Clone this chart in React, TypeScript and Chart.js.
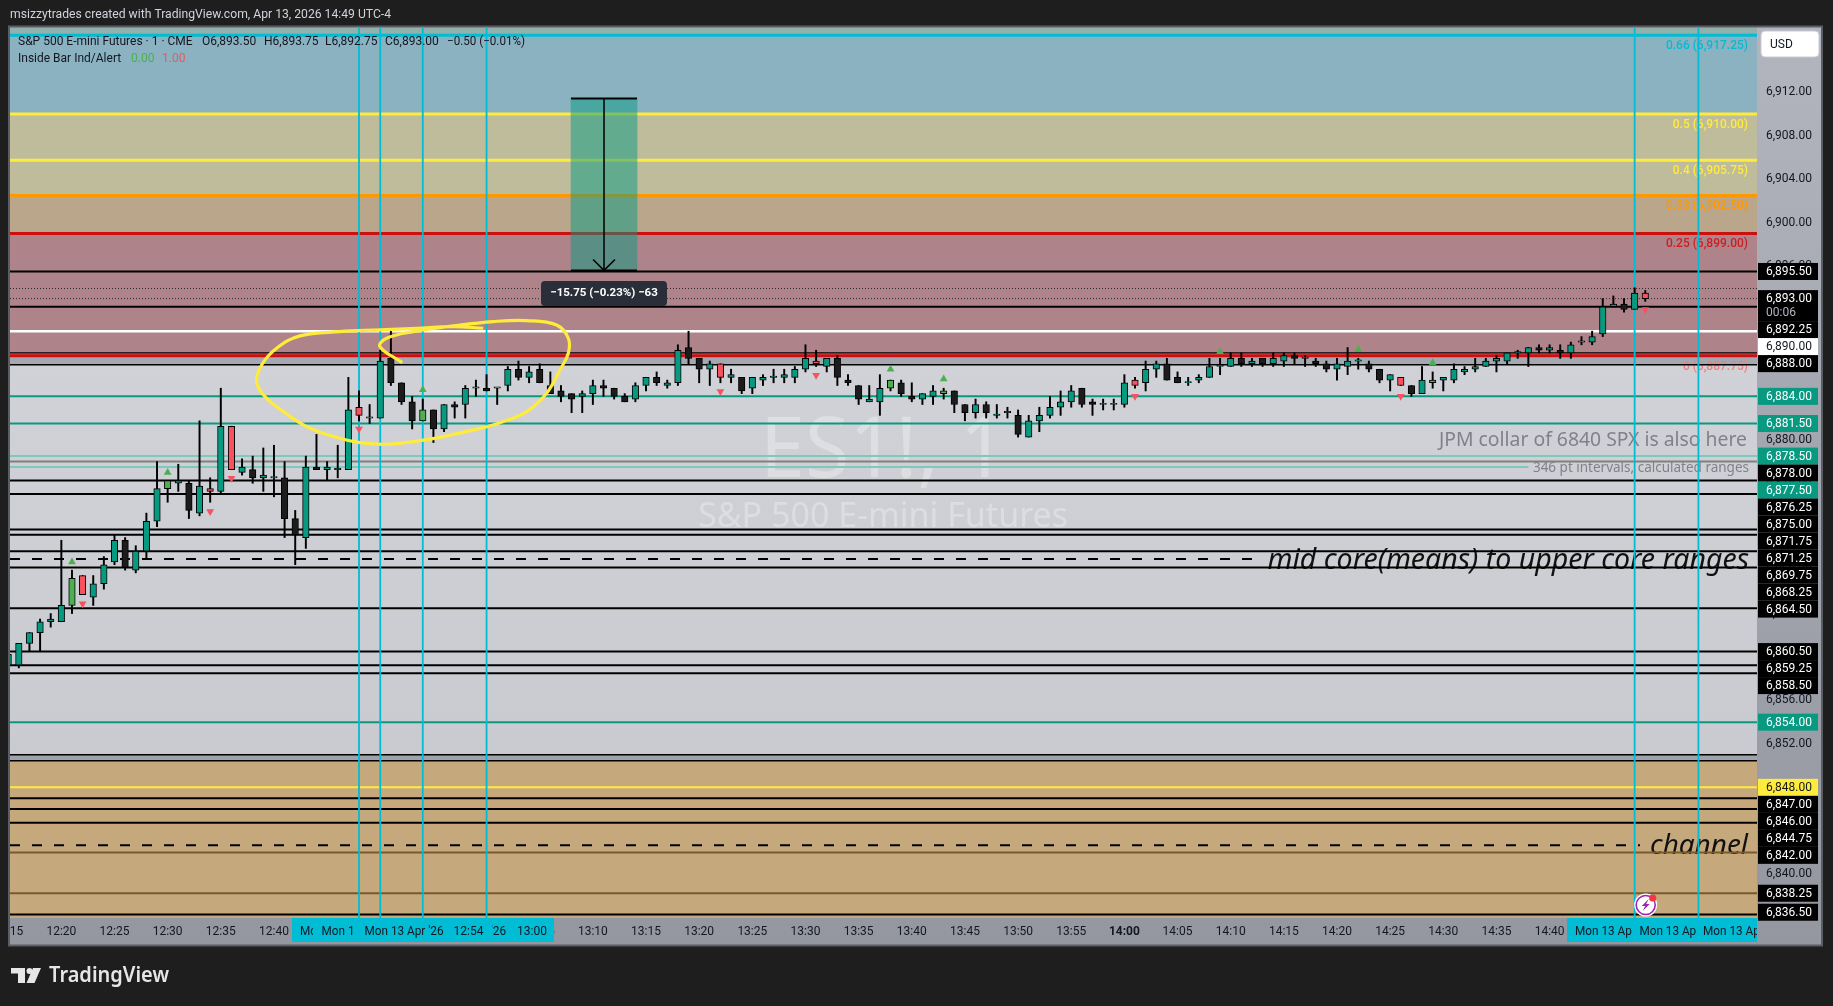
import React, { useEffect, useRef } from "react";
import { Chart, registerables } from "chart.js";

Chart.register(...registerables);

// ---- candles, one per minute from 12:15 (minute of day 735) ----
const firstMinute = 735;
const opens = [
  6859.25, 6859.25, 6861.25, 6862.25, 6863.25, 6863.25, 6864.75, 6867.5, 6865.5, 6866.75,
  6868.75, 6870.75, 6868, 6869.75, 6872.5, 6875.5, 6876, 6876, 6873.25, 6875.5,
  6875.25, 6881.25, 6877, 6877.25, 6876.5, 6876.5, 6876.5, 6872.75, 6871, 6877.5,
  6877.25, 6877.25, 6877.25, 6883, 6882, 6882, 6887.5, 6885.25, 6883.5, 6881.75,
  6882.75, 6881, 6883.25, 6883.25, 6884.75, 6884.75, 6884.75, 6885, 6886.5, 6885.75,
  6886.5, 6885, 6884.5, 6884.25, 6884, 6884.25, 6885, 6884.75, 6884, 6883.75,
  6885, 6885.75, 6885, 6885.25, 6888.5, 6887.5, 6886.5, 6887, 6885.75, 6885.75,
  6884.75, 6885.5, 6885.75, 6885.75, 6885.75, 6886.5, 6887.25, 6886.75, 6887.5, 6885.5,
  6885, 6883.5, 6883.5, 6884.75, 6885.25, 6884, 6883.75, 6884, 6884.25, 6884.5,
  6883.25, 6882.5, 6883.25, 6882.25, 6882.5, 6882.25, 6880.25, 6881.75, 6882.25, 6883,
  6883.5, 6884.75, 6883.5, 6883.25, 6883.25, 6883.25, 6885.5, 6885.25, 6886.5, 6887,
  6885.75, 6885.25, 6885.5, 6885.75, 6886.75, 6886.75, 6887.5, 6887, 6887.5, 6887,
  6887.25, 6887.75, 6887.5, 6887.25, 6887, 6886.5, 6886.75, 6887.25, 6887, 6886.5,
  6885.5, 6885.75, 6885, 6884.25, 6885.25, 6885.5, 6885.5, 6886.25, 6886.5, 6886.75,
  6887.25, 6887.25, 6888, 6888, 6888.5, 6888.25, 6888.25, 6888, 6889, 6889,
  6889.75, 6892.25, 6892.5, 6892, 6893.5,
];
const highs = [
  6860.25, 6861.25, 6862.25, 6863.5, 6864, 6870.75, 6868, 6867.5, 6867.5, 6869.25,
  6871.25, 6871, 6870.25, 6873.25, 6878, 6876.25, 6877.75, 6876.25, 6881.75, 6876.5,
  6884.75, 6881.25, 6878.25, 6878.5, 6879.25, 6879.5, 6878, 6873.5, 6878.5, 6880.5,
  6878, 6879.5, 6885.75, 6884.5, 6883.25, 6888.25, 6890, 6885.25, 6884, 6883.75,
  6882.75, 6883.25, 6883.5, 6885, 6885.5, 6886, 6884.75, 6886.75, 6887.25, 6886.75,
  6887, 6886.25, 6885, 6884.25, 6884.5, 6885.5, 6885.5, 6884.75, 6884.25, 6885.25,
  6885.75, 6886.25, 6885.5, 6888.75, 6890, 6887.5, 6887.25, 6887, 6886.5, 6885.75,
  6885.75, 6886, 6886.5, 6886.5, 6886.75, 6888.75, 6888.25, 6887.5, 6887.75, 6886,
  6885, 6885, 6886, 6885.5, 6885.5, 6885.25, 6884.25, 6885, 6884.75, 6884.5,
  6883.25, 6883.75, 6883.5, 6883.25, 6883, 6882.75, 6882.25, 6883, 6884, 6884.5,
  6885, 6884.75, 6883.75, 6883.75, 6883.75, 6886, 6885.75, 6887.25, 6887.25, 6887.5,
  6886.25, 6885.75, 6886, 6887.5, 6887.5, 6888, 6888, 6887.5, 6887.5, 6888,
  6888, 6888, 6887.75, 6887.5, 6887.25, 6887.5, 6888.5, 6887.5, 6887.25, 6886.5,
  6886, 6885.75, 6885, 6886.75, 6886.25, 6885.75, 6887, 6886.75, 6887.5, 6887.5,
  6887.75, 6888, 6888.25, 6888.5, 6888.75, 6888.75, 6888.75, 6889, 6889.5, 6890,
  6893, 6893.25, 6893, 6894, 6893.75,
];
const lows = [
  6859, 6859, 6860.5, 6860.5, 6862.75, 6863.25, 6864, 6865.75, 6864.75, 6866.25,
  6868.5, 6868, 6867.75, 6869, 6872, 6874.25, 6875.25, 6872.75, 6873, 6874.25,
  6875, 6877.25, 6876.75, 6876, 6875.25, 6874.75, 6871, 6868.5, 6870, 6877.25,
  6876.25, 6876.5, 6877.25, 6881.75, 6881.5, 6882, 6885, 6883.25, 6881, 6881.75,
  6879.75, 6880.75, 6882, 6882, 6884, 6884.5, 6883.25, 6884.5, 6885.5, 6885.25,
  6885.25, 6884.25, 6883.5, 6882.5, 6882.5, 6883.25, 6884, 6883.75, 6883.5, 6883.5,
  6884.5, 6885, 6884.75, 6885, 6887, 6885.25, 6885, 6885.25, 6885.25, 6884.25,
  6884.25, 6885, 6885.25, 6885.25, 6885.25, 6886.25, 6886.75, 6886.25, 6885, 6885,
  6883.25, 6883.5, 6882.25, 6884.5, 6884, 6883.5, 6883.25, 6883.25, 6883.75, 6882.5,
  6881.75, 6882, 6882, 6882, 6882, 6880.25, 6880.25, 6880.75, 6882, 6882.25,
  6883, 6883, 6882.25, 6882.75, 6882.75, 6883, 6884.75, 6884.5, 6885.75, 6885.5,
  6885.25, 6885, 6885.25, 6885.75, 6886, 6886.75, 6886.75, 6886.75, 6886.75, 6886.75,
  6886.75, 6887, 6886.75, 6886.75, 6886.25, 6885.5, 6886, 6886.5, 6886.25, 6885.25,
  6884.5, 6885, 6884, 6884.25, 6884.75, 6884.5, 6885.25, 6886, 6886.25, 6886.75,
  6886.25, 6887, 6887.5, 6886.75, 6888, 6888, 6887.5, 6887.5, 6888.75, 6888.75,
  6889.5, 6892.25, 6891.75, 6892, 6892.75,
];
const closes = [
  6860.25, 6861.25, 6862.25, 6863.25, 6863.5, 6864.75, 6867.25, 6865.75, 6866.75, 6868.5,
  6870.75, 6868.25, 6869.75, 6872.5, 6875.5, 6876.25, 6876.25, 6873.5, 6875.75, 6875.25,
  6881.25, 6877.25, 6877.5, 6876.5, 6876.75, 6876.5, 6872.75, 6871.25, 6877.5, 6877.25,
  6877.5, 6877.25, 6882.75, 6882.25, 6882, 6887.25, 6885.25, 6883.5, 6881.75, 6882.75,
  6881, 6883.25, 6883, 6884.75, 6884.75, 6884.5, 6884.75, 6886.5, 6885.75, 6886.25,
  6885.25, 6884.25, 6884, 6883.75, 6884.25, 6885, 6884.75, 6884, 6883.5, 6885,
  6885.75, 6885.25, 6885.25, 6888.25, 6887.5, 6886.5, 6887, 6885.75, 6886, 6884.5,
  6885.75, 6885.75, 6885.75, 6886, 6886.5, 6887.5, 6887, 6887.5, 6885.75, 6885.25,
  6883.75, 6883.75, 6884.75, 6885.5, 6884.25, 6883.75, 6884.25, 6884.5, 6884.5, 6883.25,
  6882.5, 6883.25, 6882.5, 6882.25, 6882.5, 6880.5, 6881.75, 6882.25, 6883, 6883.5,
  6884.5, 6883.25, 6883.25, 6883.25, 6883.25, 6885.25, 6885, 6886.5, 6887, 6885.5,
  6885.25, 6885.25, 6885.75, 6886.75, 6886.75, 6887.5, 6887, 6887.25, 6887, 6887.5,
  6887.75, 6887.5, 6887.5, 6887, 6886.5, 6887, 6887.25, 6887.25, 6886.5, 6885.5,
  6886, 6885, 6884.25, 6885.5, 6885.5, 6885.75, 6886.5, 6886.5, 6886.75, 6887.25,
  6887.5, 6888, 6888, 6888.5, 6888.25, 6888.5, 6888, 6888.75, 6889, 6889.5,
  6892.25, 6892.5, 6892, 6893.5, 6893,
];
const insideUpMinutes = [741, 750, 774, 818, 823, 869];
const insideDownMinutes = [742, 754, 756, 768, 802, 811, 841, 866, 889];
const upMarkerMinutes = [741, 750, 774, 818, 823, 849, 862, 869];
const upMarkerPrices = [6868.75, 6877, 6884.6, 6886.5, 6885.6, 6888.1, 6888.3, 6887.1];
const downMarkerMinutes = [742, 754, 756, 768, 802, 811, 841, 866, 889];
const downMarkerPrices = [6864.9, 6873.4, 6876.45, 6881, 6884.45, 6885.95, 6884, 6884, 6892];

// ---- levels: price, colour, width ----
const levelPrices = [6917.25, 6910, 6905.75, 6902.5, 6899, 6895.5, 6892.25, 6890, 6888, 6887.75, 6886.9, 6884, 6881.5, 6878.5, 6878, 6876.25, 6875, 6871.75, 6871.25, 6869.75, 6868.25, 6864.5, 6860.5, 6859.25, 6858.5, 6854, 6851, 6850.45, 6848, 6847, 6846, 6844.75, 6842, 6838.25, 6836.3];
const levelColors = ["#00bcd4", "#ffeb3b", "#ffeb3b", "#ff9800", "#cc0f0f", "#000", "#000", "#fff", "#000", "#cc0f0f", "#000", "#089981", "#089981", "#7bcabc", "#808080", "#000", "#000", "#000", "#000", "#000", "#000", "#000", "#000", "#000", "#000", "#089981", "#000", "#000", "#ffeb3b", "#000", "#000", "#000", "#7a5a2b", "#7a5a2b", "#000"];
const levelWidths = [3, 3, 3, 3, 3, 2, 2, 2.5, 1.2, 3, 1.5, 2, 2, 2, 2, 2, 2, 2, 2, 2, 2, 2, 2, 2, 2, 2, 1.5, 1.5, 2, 2, 2, 2, 2, 2, 2];
const intervalLinePrice = 6877.5;
const intervalLineEnd = 878;
const dottedPrices = [6893.93, 6893];
const dashedPrices = [6869.03, 6842.66];
const dashedEnds = [852.1, 888.5];
const verticalMinutes = [768, 770, 774, 780, 888, 894];

// ---- shaded zones: top price, bottom price, colour ----
const zoneTops = [6918.1, 6917.25, 6910, 6902.5, 6899, 6887.75, 6851, 6850.45];
const zoneBottoms = [6917.25, 6910, 6902.5, 6899, 6887.75, 6886.9, 6850.45, 6835.9];
const zoneColors = ["#92b1ad", "#8ab2c1", "#bfbc9c", "#b9a68b", "#ae848a", "#a5a8b1", "#a0a3ac", "#c5a87c"];

// ---- measure tool ----
const measureTop = 6911.43;
const measureBottom = 6895.6;
const measureStart = 787.94;
const measureEnd = 794.15;
const measureMid = 791.05;
const measureText = "\u221215.75 (\u22120.23%) \u221263";

// ---- hand-drawn ellipse ----
const sketchMinutes = [772.07, 769.97, 770.6, 773.1, 776.87, 780.63, 783.77, 786.59, 787.69, 787.69, 786.9, 785.65, 783.77, 781.26, 778.75, 775.62, 773.1, 770.6, 768.09, 765.58, 763.08, 760.88, 759.16, 758.37, 758.84, 760.25, 762.46, 766.2, 769.97, 773.4, 776.87, 779.69];
const sketchPrices = [6887.11, 6888.58, 6889.35, 6889.96, 6890.49, 6890.89, 6890.98, 6890.58, 6889.35, 6887.97, 6886.43, 6884.29, 6882.6, 6881.58, 6880.91, 6880.23, 6879.84, 6879.59, 6879.74, 6880.3, 6881.22, 6882.6, 6883.98, 6885.36, 6886.89, 6888.43, 6889.57, 6889.96, 6890.12, 6890.27, 6890.42, 6890.27];

// ---- axes ----
const priceTicks = [6912, 6908, 6904, 6900, 6896, 6892, 6888, 6884, 6880, 6876, 6872, 6868, 6864, 6860, 6856, 6852, 6848, 6844, 6840];
const timeTicks = [740, 745, 750, 755, 760, 765, 770, 775, 780, 785, 790, 795, 800, 805, 810, 815, 820, 825, 830, 835, 840, 845, 850, 855, 860, 865, 870, 875, 880, 885, 890, 895];
const tagPrices = [6895.5, 6893, 6892.25, 6890, 6888, 6884, 6881.5, 6878.5, 6878, 6877.5, 6876.25, 6875, 6871.75, 6871.25, 6869.75, 6868.25, 6864.5, 6860.5, 6859.25, 6858.5, 6854, 6848, 6847, 6846, 6844.75, 6842, 6838.25, 6836.5];
const tagBacks = ["#000", "#000", "#000", "#fff", "#000", "#089981", "#089981", "#089981", "#000", "#089981", "#000", "#000", "#000", "#000", "#000", "#000", "#000", "#000", "#000", "#000", "#089981", "#ffeb3b", "#000", "#000", "#000", "#000", "#000", "#000"];
const fibLabels = ["0.66 (6,917.25)", "0.5 (6,910.00)", "0.4 (6,905.75)", "0.33 (6,902.50)", "0.25 (6,899.00)", "0 (6,887.75)"];
const fibPrices = [6917.25, 6910, 6905.75, 6902.5, 6899, 6887.75];
const fibColors = ["#00bcd4", "#ffeb3b", "#ffeb3b", "#ff9800", "#cc1f1f", "#ef7f7f"];
const dateLabel = "Mon 13 Apr '26";

const MIN_X = 735.17;
const MAX_X = 899.51;
const MIN_Y = 6835.97;
const MAX_Y = 6918.01;
const UI = "Roboto, sans-serif";
const NOTE = "'Noto Sans', sans-serif";

const fmtPrice = (v: number) => v.toLocaleString("en-US", { minimumFractionDigits: 2, maximumFractionDigits: 2 });
const fmtTime = (m: number) => `${Math.floor(m / 60)}:${String(m % 60).padStart(2, "0")}`;

function put(ctx: any, s: string, x: number, y: number, font: string, color: string, align: any = "left", maxW?: number) {
  ctx.font = font;
  ctx.fillStyle = color;
  ctx.textAlign = align;
  ctx.textBaseline = "middle";
  if (maxW) ctx.fillText(s, x, y, maxW);
  else ctx.fillText(s, x, y);
}

const chrome = {
  id: "chrome",
  beforeDraw(chart: any) {
    const { ctx, chartArea: a, scales: { y } } = chart;
    ctx.save();
    ctx.fillStyle = "#1e1e1e";
    ctx.fillRect(0, 0, 1833, 1006);
    const axisGrad = ctx.createLinearGradient(0, 27, 0, 945);
    axisGrad.addColorStop(0, "#b2b4be");
    axisGrad.addColorStop(1, "#94979f");
    ctx.fillStyle = axisGrad;
    ctx.fillRect(a.left, a.top, 1822 - a.left, 945 - a.top);
    const plotGrad = ctx.createLinearGradient(0, 27, 0, 918);
    plotGrad.addColorStop(0, "#d6d8dd");
    plotGrad.addColorStop(1, "#c6c8cd");
    ctx.fillStyle = plotGrad;
    ctx.fillRect(a.left, a.top, a.right - a.left, a.bottom - a.top);
    zoneTops.forEach((t, i) => {
      const y0 = Math.max(y.getPixelForValue(t), a.top);
      const y1 = Math.min(y.getPixelForValue(zoneBottoms[i]), a.bottom);
      ctx.fillStyle = zoneColors[i];
      ctx.fillRect(a.left, y0, a.right - a.left, y1 - y0);
    });
    ctx.strokeStyle = "#5a5d63";
    ctx.lineWidth = 2;
    ctx.strokeRect(9, 26.5, 1813, 919);

    // watermark
    put(ctx, "ES1!, 1", 883, 453, `84px ${NOTE}`, "rgba(255,255,255,0.3)", "center", 246);
    put(ctx, "S&P 500 E-mini Futures", 883, 517, `34px ${NOTE}`, "rgba(255,255,255,0.3)", "center", 374);

    // notes
    fibLabels.forEach((s, i) => {
      put(ctx, s, 1748, y.getPixelForValue(fibPrices[i]) + 11, `500 12px ${UI}`, fibColors[i], "right");
    });
    put(ctx, "JPM collar of 6840 SPX is also here", 1747, 440, `20px ${NOTE}`, "#808289", "right", 308);
    ctx.restore();
  },
  beforeDatasetsDraw(chart: any) {
    const { ctx } = chart;
    ctx.save();
    put(ctx, "346 pt intervals, calculated ranges", 1749, 468, `13.5px ${NOTE}`, "#808289", "right", 218);
    put(ctx, "mid core(means) to upper core ranges", 1749, 561, `italic 28.5px ${NOTE}`, "#111", "right", 482);
    put(ctx, "channel", 1748, 846, `italic 28px ${NOTE}`, "#111", "right", 98);
    ctx.restore();
  },
  afterDraw(chart: any) {
    const { ctx, chartArea: a, scales: { x, y } } = chart;
    ctx.save();
    // clipped first time label
    ctx.save();
    ctx.beginPath();
    ctx.rect(a.left, 918, 60, 27);
    ctx.clip();
    put(ctx, fmtTime(735), x.getPixelForValue(735), 932, `12px ${UI}`, "#131722", "center");
    ctx.restore();

    // time labels of the vertical lines: text, text start, visible from, visible to
    const band = (x0: number, x1: number, labels: [string, number, number, number][]) => {
      ctx.fillStyle = "#00bcd4";
      ctx.fillRect(x0, 918, x1 - x0, 24);
      labels.forEach(([s, sx, c0, c1]) => {
        ctx.save();
        ctx.beginPath();
        ctx.rect(c0, 918, c1 - c0, 24);
        ctx.clip();
        put(ctx, s, sx, 932, `12px ${UI}`, "#131722", "left", 79);
        ctx.restore();
      });
    };
    band(292, 554, [
      [dateLabel, 300, 292, 313],
      [dateLabel, 321.6, 318, 355],
      [dateLabel, 364.5, 360, 445],
      ["12:54", 453.5, 450, 486],
      [dateLabel, 427, 492, 507],
      ["13:00", 517, 512, 552],
    ]);
    band(1567, 1757, [
      [dateLabel, 1575, 1570, 1632],
      [dateLabel, 1639.4, 1636, 1696],
      [dateLabel, 1703, 1700, 1757],
    ]);

    // price tags stacked downward so they never overlap
    let nextY = 0;
    tagPrices.forEach((p, i) => {
      const want = y.getPixelForValue(p);
      const cy = Math.max(want, nextY);
      const isLast = p === 6893;
      const h = isLast ? 31 : 17;
      ctx.fillStyle = tagBacks[i];
      ctx.fillRect(1758, cy - 8.5, 60, h);
      const back = tagBacks[i];
      const fg = back === "#fff" || back === "#ffeb3b" ? "#131722" : "#fff";
      put(ctx, fmtPrice(p), 1766, cy + 0.5, `12px ${UI}`, fg);
      if (isLast) put(ctx, "00:06", 1766, cy + 14.5, `12px ${UI}`, "#b2b5be");
      nextY = cy + (isLast ? 31 : 17);
    });

    // USD button
    ctx.fillStyle = "#ffffff";
    ctx.strokeStyle = "#c9ccd4";
    ctx.lineWidth = 1;
    ctx.beginPath();
    ctx.roundRect(1761, 31, 58, 26, 4);
    ctx.fill();
    ctx.stroke();
    put(ctx, "USD", 1770, 45, `12px ${UI}`, "#131722");

    // header
    put(ctx, "msizzytrades created with TradingView.com, Apr 13, 2026 14:49 UTC-4", 10, 15, `12.5px ${UI}`, "#d1d4dc", "left", 381);
    put(ctx, "S&P 500 E-mini Futures \u00b7 1 \u00b7 CME", 18, 42, `12px ${UI}`, "#131722", "left", 177);
    put(ctx, "O6,893.50", 202, 42, `12px ${UI}`, "#131722", "left", 55);
    put(ctx, "H6,893.75", 264, 42, `12px ${UI}`, "#131722", "left", 55);
    put(ctx, "L6,892.75", 325, 42, `12px ${UI}`, "#131722", "left", 55);
    put(ctx, "C6,893.00", 385, 42, `12px ${UI}`, "#131722", "left", 55);
    put(ctx, "\u22120.50 (\u22120.01%)", 447, 42, `12px ${UI}`, "#131722", "left", 78);
    put(ctx, "Inside Bar Ind/Alert", 18, 59, `12px ${UI}`, "#131722", "left", 106);
    put(ctx, "0.00", 131, 59, `12px ${UI}`, "#4caf50", "left");
    put(ctx, "1.00", 162, 59, `12px ${UI}`, "#f7525f", "left");

    // measure label
    ctx.fillStyle = "#2a2e39";
    ctx.beginPath();
    ctx.roundRect(541, 281, 126, 25, 4);
    ctx.fill();
    put(ctx, measureText, 604, 293.5, `bold 11.5px ${UI}`, "#fff", "center");

    // alert badge
    const bx = 1645.7;
    const by = 905;
    ctx.beginPath();
    ctx.arc(bx, by, 11.5, 0, Math.PI * 2);
    ctx.fillStyle = "#fff";
    ctx.fill();
    ctx.beginPath();
    ctx.arc(bx, by, 9.5, 0, Math.PI * 2);
    ctx.strokeStyle = "#9c27b0";
    ctx.lineWidth = 1.6;
    ctx.stroke();
    ctx.beginPath();
    ctx.moveTo(bx + 3, by - 6);
    ctx.lineTo(bx - 4, by + 1);
    ctx.lineTo(bx - 0.5, by + 1);
    ctx.lineTo(bx - 3, by + 6);
    ctx.lineTo(bx + 4, by - 1);
    ctx.lineTo(bx + 0.5, by - 1);
    ctx.closePath();
    ctx.fillStyle = "#9c27b0";
    ctx.fill();
    ctx.beginPath();
    ctx.arc(bx + 7, by - 7, 3.6, 0, Math.PI * 2);
    ctx.fillStyle = "#f23645";
    ctx.fill();

    // brand
    ctx.fillStyle = "#e6e6e6";
    ctx.fillRect(11, 968, 14, 5.5);
    ctx.fillRect(18, 968, 7, 15);
    ctx.beginPath();
    ctx.arc(29.5, 971, 3, 0, Math.PI * 2);
    ctx.fill();
    ctx.beginPath();
    ctx.moveTo(33, 968);
    ctx.lineTo(41, 968);
    ctx.lineTo(34.5, 983);
    ctx.lineTo(26.5, 983);
    ctx.closePath();
    ctx.fill();
    put(ctx, "TradingView", 49, 976, `600 21px ${NOTE}`, "#e6e6e6", "left", 120);
    ctx.restore();
  },
};

const flat = (price: number, from = MIN_X, to = MAX_X) => [{ x: from, y: price }, { x: to, y: price }];

export default function App() {
  const ref = useRef<HTMLCanvasElement>(null);
  useEffect(() => {
    document.body.style.margin = "0";
    document.body.style.background = "#1e1e1e";
    const minutes = opens.map((_, i) => firstMinute + i);
    const bodyColor = minutes.map((m, i) => {
      if (insideUpMinutes.includes(m)) return "#4caf50";
      if (insideDownMinutes.includes(m)) return "#f7525f";
      return closes[i] >= opens[i] ? "#089981" : "#1c1c1c";
    });
    const line = (data: any[], color: string, width: number, order: number, extra: any = {}) => ({
      type: "line",
      data,
      borderColor: color,
      borderWidth: width,
      pointRadius: 0,
      order,
      ...extra,
    });
    const datasets: any[] = [
      ...levelPrices.map((p, i) => line(flat(p), levelColors[i], levelWidths[i], 60)),
      line(flat(intervalLinePrice, MIN_X, intervalLineEnd), "#7bcabc", 2, 60),
      ...dottedPrices.map((p) => line(flat(p), "#2a2a2a", 1, 59, { borderDash: [1, 2] })),
      ...dashedPrices.map((p, i) => line(flat(p, MIN_X, dashedEnds[i]), "#000", 2, 59, { borderDash: [10, 12] })),
      ...verticalMinutes.map((m) => line([{ x: m, y: MIN_Y }, { x: m, y: MAX_Y }], "#00bcd4", 1.8, 50)),
      {
        type: "bar",
        data: [{ x: measureMid, y: [measureBottom, measureTop] }],
        backgroundColor: "rgba(8,153,129,0.5)",
        barThickness: 66,
        grouped: false,
        order: 45,
      },
      line(flat(measureTop, measureStart, measureEnd), "#000", 2, 44),
      line(flat(measureBottom, measureStart, measureEnd), "#000", 2, 44),
      line([{ x: measureMid, y: measureTop }, { x: measureMid, y: measureBottom }], "#000", 1.5, 44),
      line([{ x: measureMid - 1.03, y: measureBottom + 1 }, { x: measureMid, y: measureBottom }, { x: measureMid + 1.03, y: measureBottom + 1 }], "#000", 1.5, 44),
      {
        type: "bar",
        data: minutes.map((m, i) => ({ x: m, y: [lows[i], highs[i]] })),
        backgroundColor: "#000",
        barThickness: 1.3,
        grouped: false,
        order: 30,
      },
      {
        type: "bar",
        data: minutes.map((m, i) => ({ x: m, y: [opens[i], closes[i]] })),
        backgroundColor: bodyColor,
        borderColor: "#000",
        borderWidth: 1,
        borderSkipped: false,
        barThickness: 6.5,
        minBarLength: 1.3,
        grouped: false,
        order: 20,
      },
      line(upMarkerMinutes.map((m, i) => ({ x: m, y: upMarkerPrices[i] })), "transparent", 0, 15, {
        showLine: false,
        pointStyle: "triangle",
        pointRadius: 4.5,
        pointBackgroundColor: "#4caf50",
        pointBorderWidth: 0,
      }),
      line(downMarkerMinutes.map((m, i) => ({ x: m, y: downMarkerPrices[i] })), "transparent", 0, 15, {
        showLine: false,
        pointStyle: "triangle",
        pointRotation: 180,
        pointRadius: 4.5,
        pointBackgroundColor: "#f7525f",
        pointBorderWidth: 0,
      }),
      line(sketchMinutes.map((m, i) => ({ x: m, y: sketchPrices[i] })), "#ffeb3b", 3.2, 5, { tension: 0.4 }),
    ];
    const chart = new Chart(ref.current as HTMLCanvasElement, {
      type: "bar",
      data: { datasets },
      options: {
        animation: false,
        responsive: false,
        devicePixelRatio: 1,
        layout: { autoPadding: false, padding: { left: 10, top: 27, right: 11, bottom: 61 } },
        plugins: { legend: { display: false }, tooltip: { enabled: false }, title: { display: false } },
        scales: {
          x: {
            type: "linear",
            offset: false,
            min: MIN_X,
            max: MAX_X,
            grid: { display: false, offset: false, drawTicks: false },
            border: { display: false },
            afterBuildTicks: (s: any) => { s.ticks = timeTicks.map((value) => ({ value })); },
            afterFit: (s: any) => { s.height = 27; },
            ticks: {
              autoSkip: false,
              maxRotation: 0,
              padding: 7,
              color: "#131722",
              font: (c: any) => ({ family: UI, size: 12, weight: c.tick && c.tick.value === 840 ? "bold" : "normal" }),
              callback: (v: any) => fmtTime(Number(v)),
            },
          },
          y: {
            type: "linear",
            position: "right",
            beginAtZero: false,
            min: MIN_Y,
            max: MAX_Y,
            grid: { display: false, drawTicks: false },
            border: { display: false },
            afterBuildTicks: (s: any) => { s.ticks = priceTicks.map((value) => ({ value })); },
            afterFit: (s: any) => { s.width = 65; },
            ticks: {
              autoSkip: false,
              padding: 9,
              color: "#131722",
              font: { family: UI, size: 12 },
              callback: (v: any) => fmtPrice(Number(v)),
            },
          },
        },
      } as any,
      plugins: [chrome],
    } as any);
    return () => chart.destroy();
  }, []);
  return (
    <div style={{ position: "fixed", left: 0, top: 0, width: 1833, height: 1006, overflow: "hidden" }}>
      <canvas ref={ref} width={1833} height={1006} style={{ display: "block", width: 1833, height: 1006 }} />
    </div>
  );
}
